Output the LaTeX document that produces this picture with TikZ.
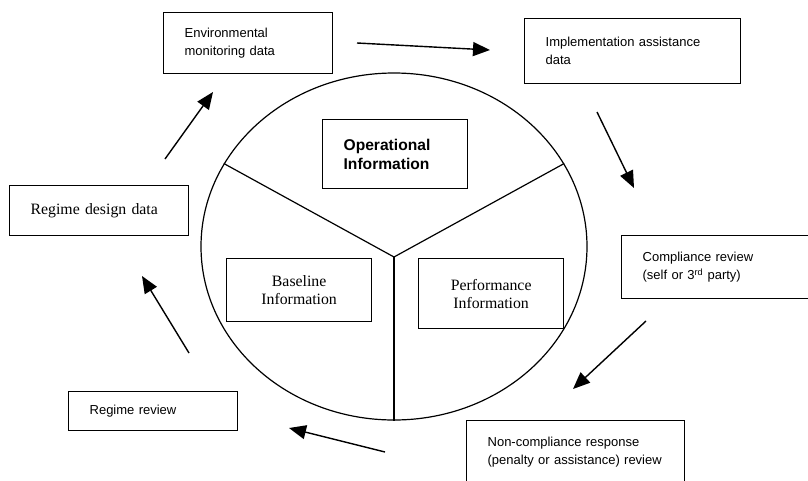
\documentclass[tikz,border=0pt]{standalone}
\usepackage{fontspec}
\setmainfont{Liberation Serif}
\setsansfont{Liberation Sans}
\usetikzlibrary{arrows.meta,shapes.geometric}

\begin{document}
\begin{tikzpicture}[x=1pt, y=-1pt,
  databox/.style={draw, line width=1.3pt, anchor=north west, align=left, inner xsep=21pt, inner ysep=0pt, font=\sffamily\fontsize{13}{18}\selectfont},
  infobox/.style={draw, line width=1.3pt, anchor=north west, align=center, inner sep=0pt, minimum width=145pt, font=\rmfamily\fontsize{15.8}{18}\selectfont},
  flow/.style={-{Triangle[length=17pt,width=14pt]}, line width=1.4pt},
  part/.style={line width=1.2pt}
]
\useasboundingbox (0,0) rectangle (808,480);
\clip (0,0) rectangle (808,480);

\node[draw, ellipse, line width=1.2pt, inner sep=0pt, minimum width=386pt, minimum height=347pt] (circ) at (394,246.5) {};
\coordinate (hub) at (394,257);
\draw[part] (hub) -- (circ.154);
\draw[part] (hub) -- (circ.26);
\draw[part] (hub) -- (circ.south);

\node[infobox, font=\sffamily\bfseries\fontsize{15.6}{19}\selectfont, align=left, inner xsep=21pt, text width=103pt, minimum height=69pt] (oper) at (322,119) {Operational\\Information};
\node[infobox, minimum height=63pt] (base) at (226,258) {Baseline\\Information};
\node[infobox, minimum height=70pt] (perf) at (418,258) {Performance\\Information};

\node[databox, text width=127pt, minimum height=61pt] (env) at (163,12) {Environmental\\monitoring data};
\node[databox, text width=174pt, minimum height=65pt] (impl) at (524,18) {Implementation assistance\\data};
\node[databox, text width=167pt, minimum height=63pt] (comp) at (621,235) {Compliance review\\(self or 3\textsuperscript{rd} party)};
\node[databox, text width=176pt, minimum height=62pt] (noncomp) at (466,420) {Non-compliance response\\(penalty or assistance) review};
\node[databox, text width=127pt, minimum height=39pt] (review) at (68,391) {Regime review};
\node[databox, text width=137pt, minimum height=50pt, font=\rmfamily\fontsize{15.8}{18}\selectfont] (design) at (9,185) {Regime design data};

\coordinate (env-t) at (357,43);     \coordinate (env-h) at (490,50);
\coordinate (impl-t) at (597,112);   \coordinate (impl-h) at (634,188);
\coordinate (comp-t) at (646,321);   \coordinate (comp-h) at (573,389);
\coordinate (nonc-t) at (385,452);   \coordinate (nonc-h) at (289,428);
\coordinate (rev-t) at (189,353);    \coordinate (rev-h) at (142,276);
\coordinate (des-t) at (165,159);    \coordinate (des-h) at (213,92);

\draw[flow] (env-t) -- (env-h);
\draw[flow] (impl-t) -- (impl-h);
\draw[flow] (comp-t) -- (comp-h);
\draw[flow] (nonc-t) -- (nonc-h);
\draw[flow] (rev-t) -- (rev-h);
\draw[flow] (des-t) -- (des-h);
\end{tikzpicture}
\end{document}
